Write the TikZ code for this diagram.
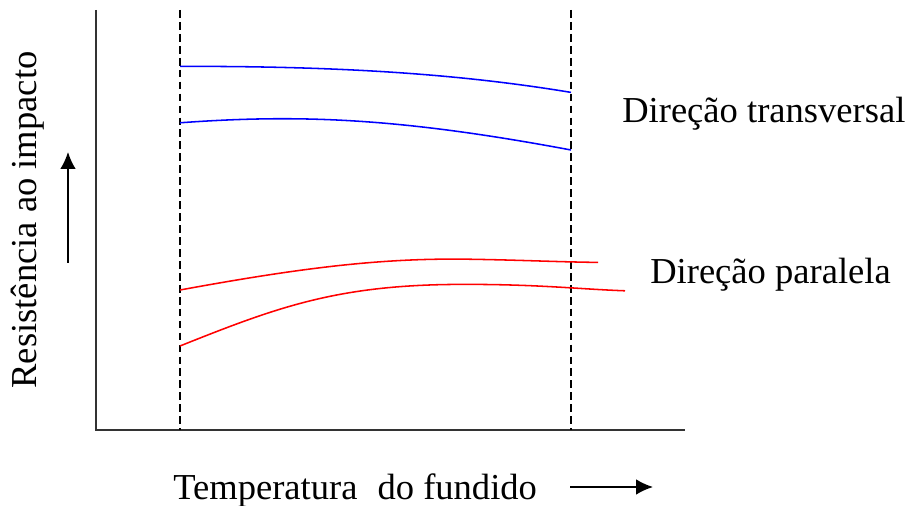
\documentclass[tikz,border=0pt]{standalone}
\usepackage{fontspec}
\setmainfont{Liberation Serif}
\newfontfamily\timesfont{Liberation Serif}
\usetikzlibrary{arrows.meta}

\begin{document}
\begin{tikzpicture}[
    every node/.style={inner sep=0pt, font=\timesfont\fontsize{26}{30}\selectfont},
    axisline/.style={line width=1.6pt, black!80},
    guide/.style={line width=1.1pt, dash pattern=on 5.5pt off 3pt},
    curve/.style={line width=1.1pt},
    axisarrow/.style={line width=1.1pt, -{Latex[length=12pt,width=11pt]}}
  ]
    \useasboundingbox (0,0) rectangle (22.725,12.65);

    % Draw the axes
    \draw[axisline] (2.4,12.4) -- (2.4,1.9) -- (17.125,1.9);

    % Draw the two dashed limits
    \draw[guide] (4.5,12.4) -- (4.5,1.9);
    \draw[guide] (14.275,12.4) -- (14.275,1.9);

    % Transverse direction (blue)
    \draw[curve, blue] (4.5,10.99) .. controls (8.5,11.0) and (11.5,10.8) .. (14.275,10.34);
    \draw[curve, blue] (4.5,9.58) .. controls (7.5,9.8) and (10,9.7) .. (14.275,8.9);

    % Parallel direction (red)
    \draw[curve, red] (4.5,5.4) .. controls (7.5,5.95) and (9.5,6.2) .. (11.675,6.17)
        .. controls (13,6.15) and (14,6.1) .. (14.95,6.09);
    \draw[curve, red] (4.5,4.0) .. controls (7.0,5.0) and (8.5,5.55) .. (11.675,5.54)
        .. controls (13.5,5.54) and (14.5,5.42) .. (15.625,5.38);

    % Label the curves
    \node[anchor=base west] (transv) at (15.55,9.575) {Direção transversal};
    \node[anchor=base west] (parall) at (16.25,5.55) {Direção paralela};

    % Axis labels with their arrows
    \node[rotate=90] (ylab) at (0.7,7.15) {Resistência ao impacto};
    \coordinate (ytail) at (1.7,6.08);
    \coordinate (yhead) at (1.7,8.85);
    \draw[axisarrow] (ytail) -- (yhead);

    \node[anchor=base west] (xlab) at (4.325,0.15) {Temperatura\hspace{0.3em} do fundido};
    \coordinate (xtail) at (14.25,0.475);
    \coordinate (xhead) at (16.325,0.475);
    \draw[axisarrow] (xtail) -- (xhead);
\end{tikzpicture}
\end{document}
